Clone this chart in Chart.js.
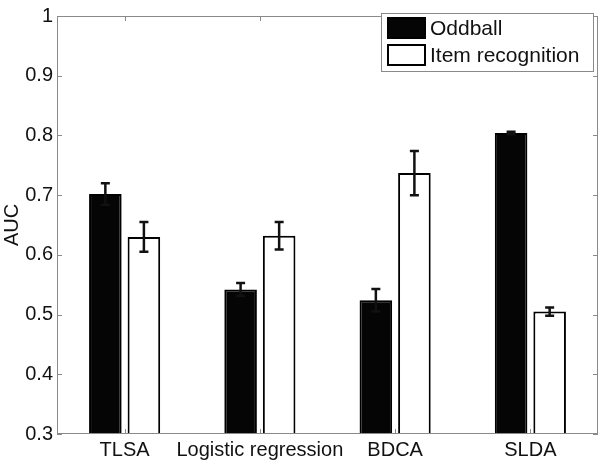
<!DOCTYPE html>
<html>
<head>
<meta charset="utf-8">
<script src="https://cdn.jsdelivr.net/npm/chart.js@4.4.0/dist/chart.umd.min.js"></script>
<style>
  html, body { margin: 0; padding: 0; background: #fff; }
  #wrap { width: 600px; height: 460px; }
</style>
</head>
<body>
<div id="wrap"><canvas id="c" width="600" height="460"></canvas></div>
<script>
const categories = ['TLSA', 'Logistic regression', 'BDCA', 'SLDA'];
const seriesNames = ['Oddball', 'Item recognition'];
const oddball = [0.702, 0.542, 0.524, 0.804];
const oddballErr = [0.018, 0.011, 0.019, 0.002];
const itemRec = [0.630, 0.632, 0.737, 0.505];
const itemRecErr = [0.025, 0.023, 0.037, 0.007];
const yTicks = [0.3, 0.4, 0.5, 0.6, 0.7, 0.8, 0.9, 1];

const FONT = '"Liberation Sans", Arial, Helvetica, sans-serif';
const AXIS_COLOR = '#8a8a8a';
const TEXT_COLOR = '#111';

const errorBars = {
  id: 'errorBars',
  afterDatasetsDraw(chart) {
    const ctx = chart.ctx;
    const errs = [oddballErr, itemRecErr];
    const y = chart.scales.y;
    ctx.save();
    chart.data.datasets.forEach((ds, di) => {
      const meta = chart.getDatasetMeta(di);
      meta.data.forEach((bar, i) => {
        const v = ds.data[i], e = errs[di][i];
        const x = bar.x;
        const yt = y.getPixelForValue(v + e);
        const yb = y.getPixelForValue(v - e);
        ctx.strokeStyle = '#111';
        ctx.lineWidth = 2.5;
        ctx.beginPath();
        ctx.moveTo(x, yt); ctx.lineTo(x, yb);
        ctx.moveTo(x - 4.5, yt); ctx.lineTo(x + 4.5, yt);
        ctx.moveTo(x - 4.5, yb); ctx.lineTo(x + 4.5, yb);
        ctx.stroke();
      });
    });
    ctx.restore();
  }
};

const axesBox = {
  id: 'axesBox',
  afterDraw(chart) {
    const ctx = chart.ctx;
    const a = chart.chartArea;
    const y = chart.scales.y, x = chart.scales.x;
    ctx.save();
    ctx.strokeStyle = AXIS_COLOR;
    ctx.lineWidth = 1;
    ctx.strokeRect(Math.round(a.left) + 0.5, Math.round(a.top) + 0.5,
                   Math.round(a.right - a.left) - 1, Math.round(a.bottom - a.top) - 1);
    ctx.beginPath();
    yTicks.forEach(t => {
      const py = Math.round(y.getPixelForValue(t)) + 0.5;
      ctx.moveTo(a.left, py); ctx.lineTo(a.left + 5, py);
      ctx.moveTo(a.right, py); ctx.lineTo(a.right - 5, py);
    });
    categories.forEach((c, i) => {
      const px = Math.round(x.getPixelForValue(i)) + 0.5;
      ctx.moveTo(px, a.top); ctx.lineTo(px, a.top + 5);
      ctx.moveTo(px, a.bottom); ctx.lineTo(px, a.bottom - 5);
    });
    ctx.stroke();

    // legend box (MATLAB style, inside axes)
    const lx = 381, ly = 13, lw = 212, lh = 58;
    ctx.fillStyle = '#fff';
    ctx.fillRect(lx, ly, lw, lh);
    ctx.strokeStyle = AXIS_COLOR;
    ctx.strokeRect(lx + 0.5, ly + 0.5, lw, lh);
    const fills = ['#050505', '#ffffff'];
    ctx.font = '21px ' + FONT;
    ctx.textBaseline = 'middle';
    ctx.textAlign = 'left';
    seriesNames.forEach((name, i) => {
      const ry = 17 + i * 27;
      ctx.fillStyle = fills[i];
      ctx.fillRect(387, ry, 39, 22);
      ctx.strokeStyle = '#000';
      ctx.lineWidth = 2;
      ctx.strokeRect(388, ry + 1, 37, 20);
      ctx.fillStyle = TEXT_COLOR;
      ctx.fillText(name, 430, ry + 12);
    });
    ctx.restore();
  }
};

new Chart(document.getElementById('c'), {
  type: 'bar',
  data: {
    labels: categories,
    datasets: [
      { label: seriesNames[0], data: oddball, backgroundColor: '#050505', borderColor: '#000', borderWidth: 2 },
      { label: seriesNames[1], data: itemRec, backgroundColor: '#ffffff', borderColor: '#000', borderWidth: 2 }
    ]
  },
  options: {
    responsive: false,
    animation: false,
    devicePixelRatio: 1,
    layout: { padding: { top: 6, right: 2, left: 0, bottom: 0 } },
    datasets: { bar: { categoryPercentage: 0.57, barPercentage: 0.845 } },
    plugins: { legend: { display: false }, tooltip: { enabled: false } },
    scales: {
      x: {
        grid: { display: false, drawTicks: false },
        border: { display: false },
        ticks: { color: TEXT_COLOR, font: { family: FONT, size: 20 }, padding: 4, maxRotation: 0, autoSkip: false },
        afterFit(s) { s.height = 26; }
      },
      y: {
        min: 0.3, max: 1,
        afterBuildTicks(s) { s.ticks = yTicks.map(v => ({ value: v })); },
        grid: { display: false, drawTicks: false },
        border: { display: false },
        ticks: {
          color: TEXT_COLOR, font: { family: FONT, size: 20 }, padding: 4,
          callback: v => (v === 1 ? '1' : v.toFixed(1))
        },
        title: { display: true, text: 'AUC', color: TEXT_COLOR, font: { family: FONT, size: 20 }, padding: { top: 0, bottom: 0 } },
        afterFit(s) { s.width = 57; }
      }
    }
  },
  plugins: [errorBars, axesBox]
});
</script>
</body>
</html>
